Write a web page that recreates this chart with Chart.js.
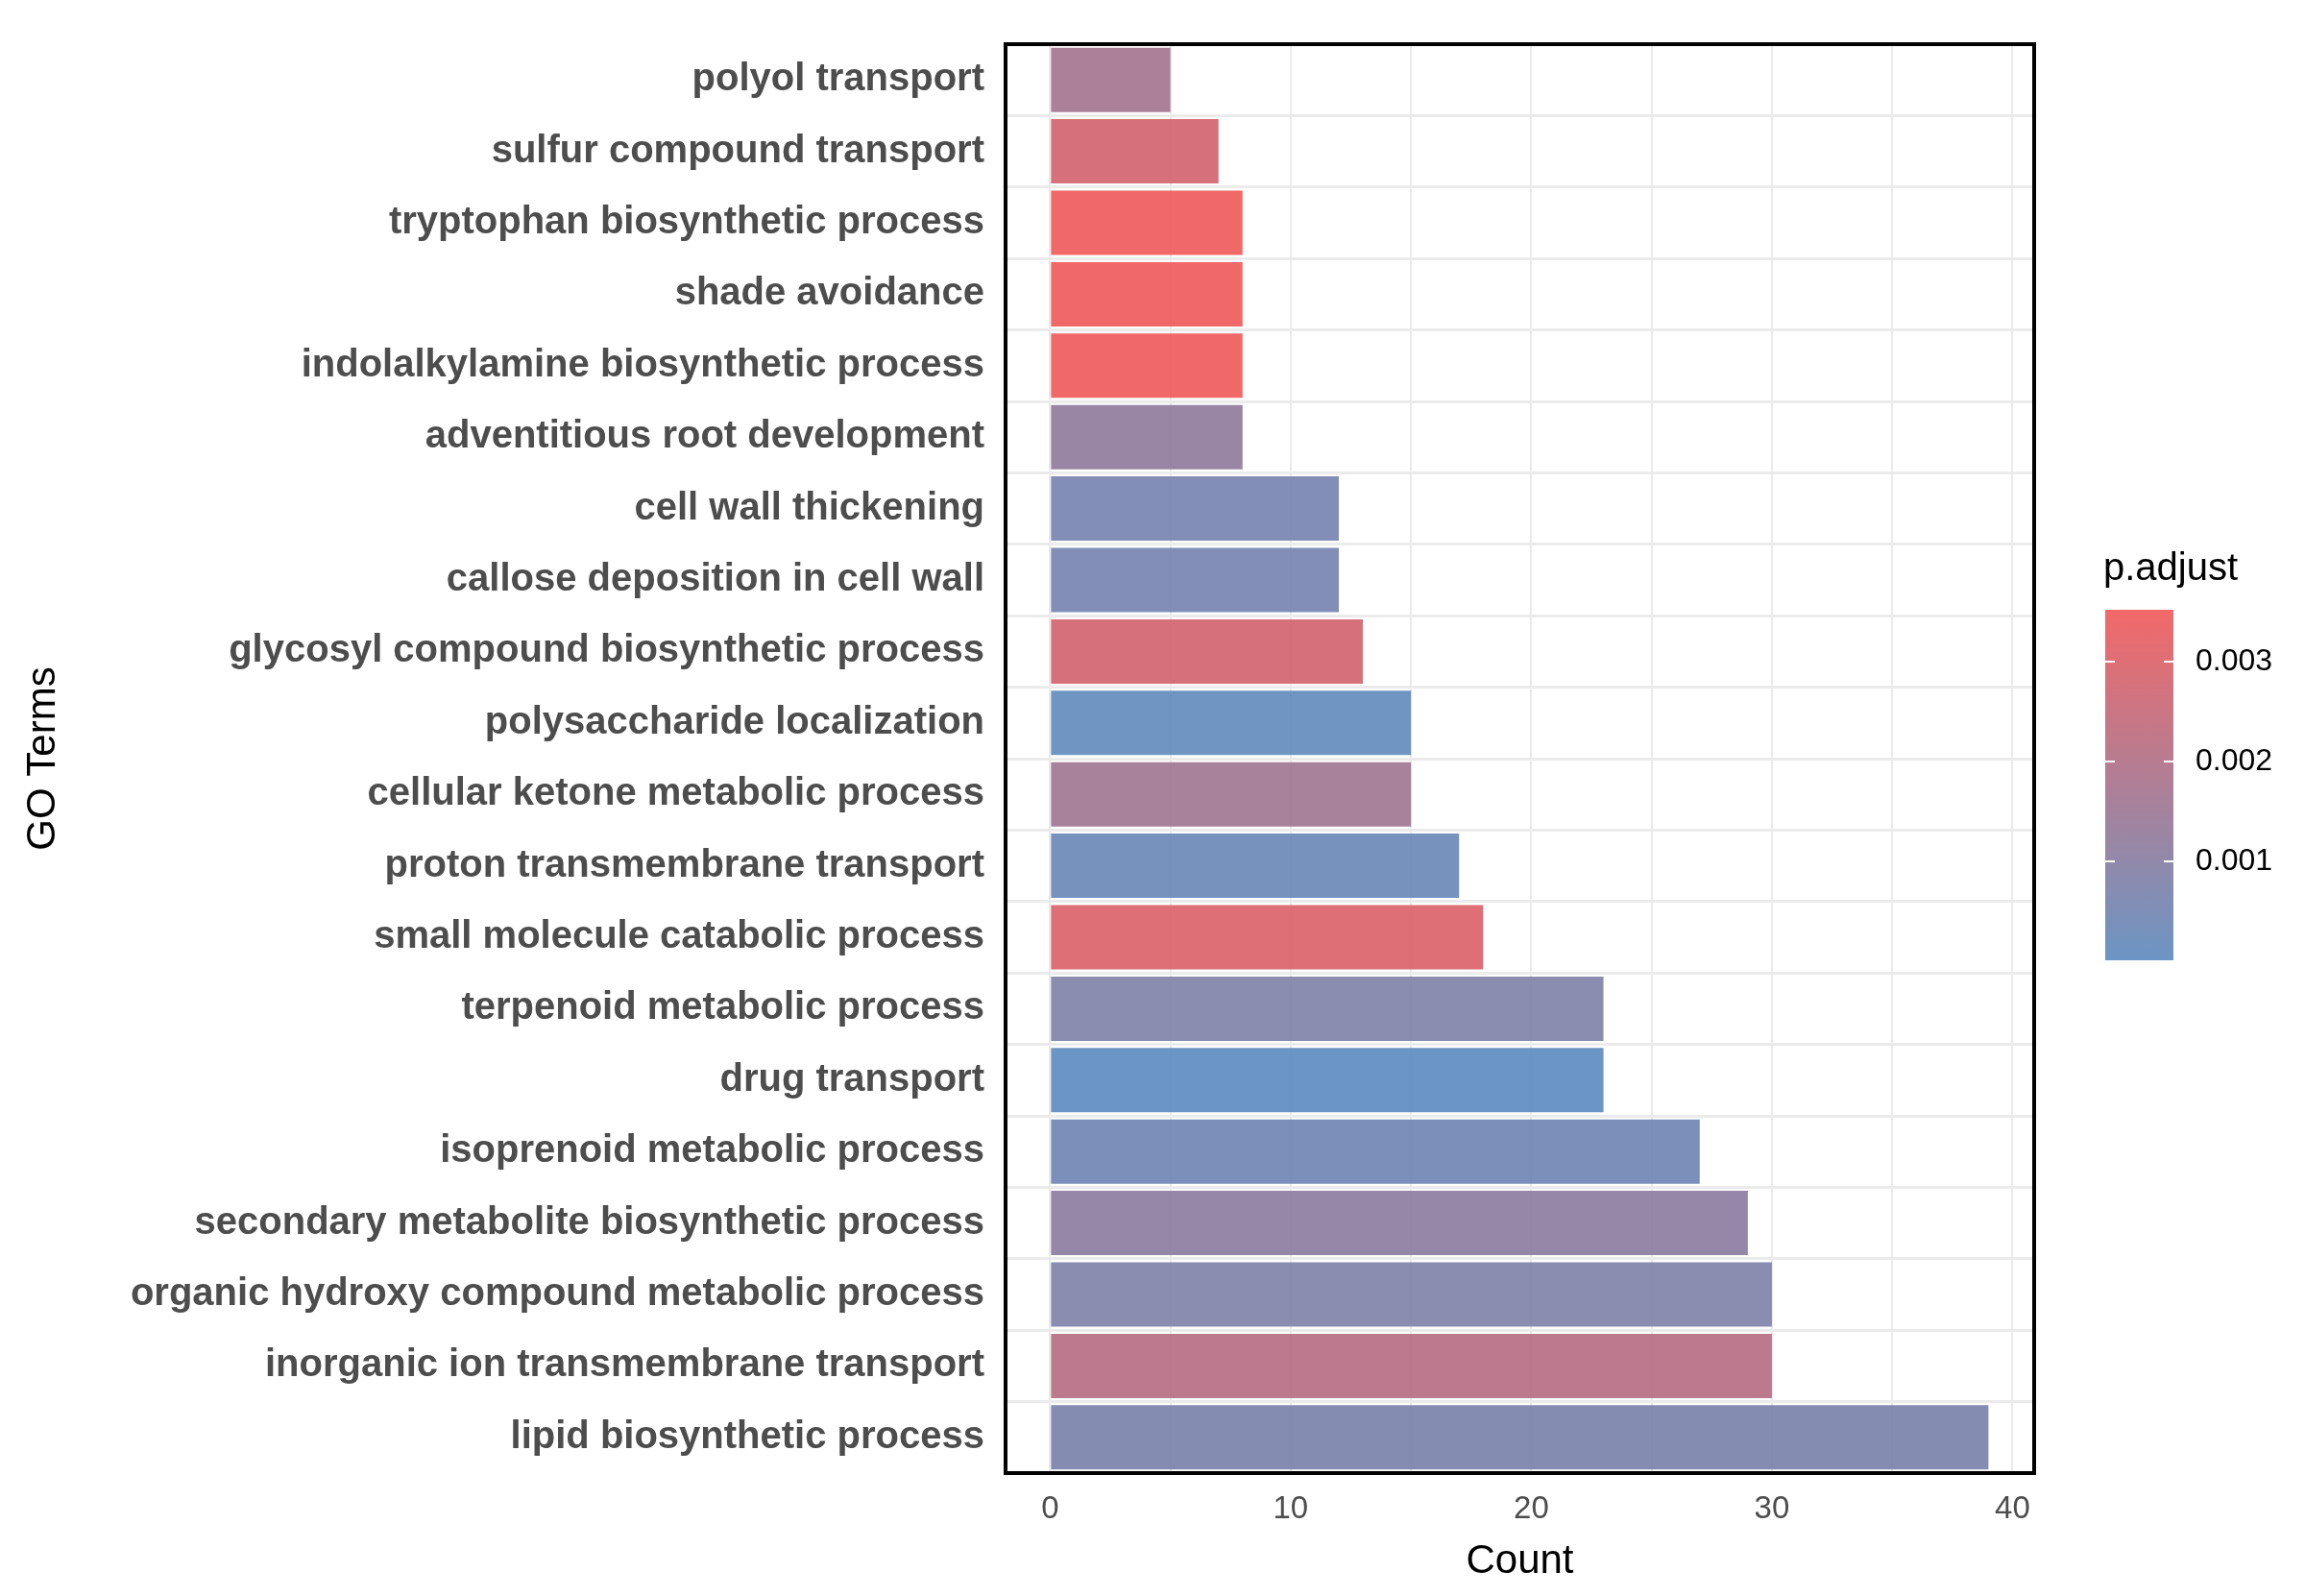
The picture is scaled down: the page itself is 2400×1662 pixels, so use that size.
<!DOCTYPE html>
<html>
<head>
<meta charset="utf-8">
<script src="https://cdn.jsdelivr.net/npm/chart.js@4.4.1/dist/chart.umd.min.js"></script>
<style>
  html, body { margin: 0; padding: 0; background: #fff; }
  #wrap { width: 2400px; height: 1662px; }
</style>
</head>
<body>
<div id="wrap"><canvas id="chart" width="2400" height="1662"></canvas></div>
<script>
// GO terms, top to bottom as drawn
const terms = [
  'polyol transport', 'sulfur compound transport', 'tryptophan biosynthetic process',
  'shade avoidance', 'indolalkylamine biosynthetic process', 'adventitious root development',
  'cell wall thickening', 'callose deposition in cell wall', 'glycosyl compound biosynthetic process',
  'polysaccharide localization', 'cellular ketone metabolic process', 'proton transmembrane transport',
  'small molecule catabolic process', 'terpenoid metabolic process', 'drug transport',
  'isoprenoid metabolic process', 'secondary metabolite biosynthetic process',
  'organic hydroxy compound metabolic process', 'inorganic ion transmembrane transport',
  'lipid biosynthetic process'
];
const counts = [5, 7, 8, 8, 8, 8, 12, 12, 13, 15, 15, 17, 18, 23, 23, 27, 29, 30, 30, 39];
const padjust = [0.0017, 0.0028, 0.0035, 0.0035, 0.0035, 0.0012, 0.0006, 0.0006, 0.0028, 0.0001,
                 0.0016, 0.0003, 0.0030, 0.0008, 0.00002, 0.0004, 0.0011, 0.0008, 0.0021, 0.0007];
const legendTicks = [0.001, 0.002, 0.003];
const pMin = 0.00001, pMax = 0.00352;

const lowCol = [91, 138, 190], highCol = [241, 88, 88];
function colorFor(p, a) {
  const t = Math.max(0, Math.min(1, (p - pMin) / (pMax - pMin)));
  const c = lowCol.map((v, i) => Math.round(v + (highCol[i] - v) * t));
  return `rgba(${c[0]},${c[1]},${c[2]},${a})`;
}

const legendPlugin = {
  id: 'gradLegend',
  afterDraw(chart) {
    const ctx = chart.ctx;
    const x = 2192, w = 71, top = 635, bot = 1000;
    const g = ctx.createLinearGradient(0, bot, 0, top);
    for (let i = 0; i <= 10; i++) g.addColorStop(i / 10, colorFor(pMin + (pMax - pMin) * i / 10, 0.9));
    ctx.save();
    ctx.fillStyle = g;
    ctx.fillRect(x, top, w, bot - top);
    ctx.fillStyle = '#000';
    ctx.font = '40px Arial, "Liberation Sans", sans-serif';
    ctx.textBaseline = 'middle';
    ctx.fillText('p.adjust', 2190, 593);
    ctx.font = '32px Arial, "Liberation Sans", sans-serif';
    ctx.strokeStyle = '#fff';
    ctx.lineWidth = 2;
    legendTicks.forEach(v => {
      const y = bot - (v - pMin) / (pMax - pMin) * (bot - top);
      ctx.beginPath(); ctx.moveTo(x, y); ctx.lineTo(x + 10, y); ctx.moveTo(x + w - 10, y); ctx.lineTo(x + w, y); ctx.stroke();
      ctx.fillText(String(v), 2286, y);
    });
    // plot border
    const a = chart.chartArea;
    ctx.strokeStyle = '#000';
    ctx.lineWidth = 4;
    ctx.strokeRect(a.left, a.top, a.right - a.left, a.bottom - a.top);
    ctx.restore();
  }
};

new Chart(document.getElementById('chart'), {
  type: 'bar',
  data: {
    labels: terms,
    datasets: [{
      data: counts,
      backgroundColor: padjust.map(p => colorFor(p, 0.9)),
      barPercentage: 0.9,
      categoryPercentage: 1.0
    }]
  },
  options: {
    indexAxis: 'y',
    responsive: false,
    devicePixelRatio: 1,
    animation: false,
    layout: { padding: { top: 23, right: 282, bottom: 10, left: 0 } },
    plugins: { legend: { display: false }, tooltip: { enabled: false } },
    scales: {
      x: {
        min: -1.85, max: 40.9,
        afterBuildTicks: s => { s.ticks = [0, 5, 10, 15, 20, 25, 30, 35, 40].map(v => ({ value: v })); },
        afterFit: s => { s.height = 118; },
        grid: { color: '#ebebeb', lineWidth: 2, drawTicks: false },
        border: { display: false },
        ticks: {
          padding: 18,
          color: '#4d4d4d',
          font: { size: 33, family: 'Arial, "Liberation Sans", sans-serif' },
          callback: v => (v % 10 === 0 ? v : '')
        },
        title: { display: true, text: 'Count', color: '#000', padding: 0,
                 font: { size: 42, family: 'Arial, "Liberation Sans", sans-serif' } }
      },
      y: {
        afterFit: s => { s.width = 1047; },
        grid: { color: '#ebebeb', lineWidth: 3, drawTicks: false },
        border: { display: false },
        ticks: {
          padding: 22,
          color: '#4d4d4d',
          font: { size: 40, weight: 'bold', family: 'Arial, "Liberation Sans", sans-serif' }
        },
        title: { display: true, text: 'GO Terms', color: '#000', padding: { top: 20, bottom: 0 },
                 font: { size: 42, family: 'Arial, "Liberation Sans", sans-serif' } }
      }
    }
  },
  plugins: [legendPlugin]
});
</script>
</body>
</html>
